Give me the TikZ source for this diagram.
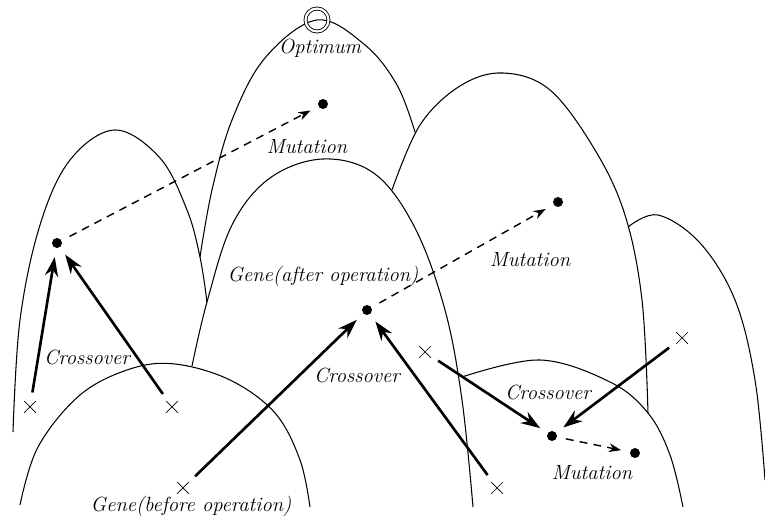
\documentclass[tikz,border=0pt]{standalone}
\usepackage{tikz}
\usetikzlibrary{arrows.meta,shapes.misc}

\begin{document}
\begin{tikzpicture}[x=0.02cm,y=-0.02cm,font=\fontsize{11.7}{14}\selectfont\itshape]
  \tikzstyle{hill}=[line width=0.6pt,smooth,tension=0.6]
  \tikzstyle{gene}=[circle,fill,inner sep=0pt,minimum size=0.2cm]
  \tikzstyle{parent}=[cross out,draw,line width=0.4pt,inner sep=0pt,minimum size=0.22cm]
  \tikzstyle{xover}=[line width=1.5pt,-{Stealth[length=11pt,width=7.5pt]},shorten <=5pt,shorten >=5pt]
  \tikzstyle{mutate}=[line width=0.8pt,dash pattern=on 4.5pt off 3.5pt,-{Stealth[length=7pt,width=5pt]},shorten <=5pt,shorten >=5pt]
  \useasboundingbox (0,0) rectangle (765,516);
  \draw[hill] plot coordinates {(13,432) (20,320) (40,225) (70,160) (115,130) (160,158) (187,210) (200,257) (207,302)};
  \draw[hill] plot coordinates {(200,257) (212,190) (232,120) (265,58) (317,20) (365,45) (397,85) (415,132)};
  \draw[hill] plot coordinates {(192,366) (207,302) (232,225) (270,178) (323,159) (375,174) (415,228) (445,310) (462,400) (473,507)};
  \draw[hill] plot coordinates {(392,190) (420,125) (460,86) (503,73) (550,90) (595,150) (625,215) (642,300) (648,413)};
  \draw[hill] plot coordinates {(628,227) (658,215) (700,243) (735,300) (755,380) (765,480)};
  \draw[hill] plot coordinates {(462,377) (540,360) (610,382) (648,413) (670,455) (683,507)};
  \draw[hill] plot coordinates {(20,505) (38,447) (80,395) (130,369) (175,364) (230,380) (275,413) (300,460) (310,507)};
  \node[circle,draw,double,double distance=1.2pt,line width=0.5pt,minimum size=0.46cm] (opt) at (317,20) {};
  \node (lopt) at (320,48) {Optimum};
  \node[gene] (G1) at (57,243) {};
  \node[gene] (G2) at (323,104) {};
  \node[gene] (G3) at (367,310) {};
  \node[gene] (G4) at (558,202) {};
  \node[gene] (G5) at (552,436) {};
  \node[gene] (G6) at (635,453) {};
  \node[parent] (X1) at (30,407) {};
  \node[parent] (X2) at (172,407) {};
  \node[parent] (X3) at (183,488) {};
  \node[parent] (X4) at (497,488) {};
  \node[parent] (X5) at (425,352) {};
  \node[parent] (X6) at (682,338) {};
  \draw[xover] (X1) -- (G1);
  \draw[xover] (X2) -- (G1);
  \draw[xover] (X3) -- (G3);
  \draw[xover] (X4) -- (G3);
  \draw[xover] (X5) -- (G5);
  \draw[xover] (X6) -- (G5);
  \draw[mutate] (G1) -- (G2);
  \draw[mutate] (G3) -- (G4);
  \draw[mutate] (G5) -- (G6);
  \node (m1) at (307,147) {Mutation};
  \node (m2) at (530,260) {Mutation};
  \node (m3) at (592,473) {Mutation};
  \node (c1) at (87,357) {Crossover};
  \node (c2) at (357,375) {Crossover};
  \node (c3) at (548,392) {Crossover};
  \node (ga) at (323,276) {Gene(after operation)};
  \node (gb) at (191,506) {Gene(before operation)};
\end{tikzpicture}
\end{document}
